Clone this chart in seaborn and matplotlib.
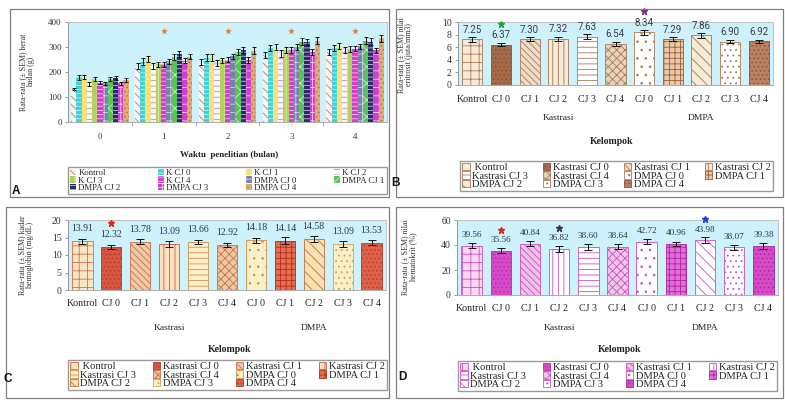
import matplotlib
matplotlib.use('Agg')
import matplotlib.pyplot as plt
import matplotlib.transforms as mtrans
import seaborn as sns
import pandas as pd
from matplotlib.patches import Rectangle

sns.set_style('white')
plt.rcParams['font.family'] = ['Liberation Serif', 'DejaVu Serif']
plt.rcParams['hatch.linewidth'] = 0.6

W, H = 785, 404


def box(x0, y0, x1, y1):
    return [x0 / W, 1 - y1 / H, (x1 - x0) / W, (y1 - y0) / H]


def pt(x, y):
    return x / W, 1 - y / H


# ---------------- Panel A data (berat badan, g) ----------------
months = ['0', '1', '2', '3', '4']
groups_A = ['Kontrol', 'K CJ 0', 'K CJ 1', 'K CJ 2', 'K CJ 3', 'K CJ 4',
            'DMPA CJ 0', 'DMPA CJ 1', 'DMPA CJ 2', 'DMPA CJ 3', 'DMPA CJ 4']
bw_kontrol = [133, 225, 240, 268, 281]
bw_k_cj0 = [180, 241, 258, 296, 298]
bw_k_cj1 = [180, 251, 258, 300, 305]
bw_k_cj2 = [153, 226, 236, 274, 287]
bw_k_cj3 = [172, 231, 247, 287, 294]
bw_k_cj4 = [158, 231, 250, 289, 294]
bw_d_cj0 = [155, 243, 263, 300, 304]
bw_d_cj1 = [172, 261, 280, 322, 325]
bw_d_cj2 = [178, 272, 288, 319, 321]
bw_d_cj3 = [155, 246, 250, 280, 287]
bw_d_cj4 = [168, 262, 286, 326, 335]
se_kontrol = [5, 12, 12, 12, 12]
se_k_cj0 = [10, 14, 14, 12, 12]
se_k_cj1 = [8, 12, 14, 12, 12]
se_k_cj2 = [8, 12, 12, 15, 12]
se_k_cj3 = [7, 10, 10, 12, 12]
se_k_cj4 = [7, 10, 10, 12, 10]
se_d_cj0 = [6, 10, 10, 12, 10]
se_d_cj1 = [9, 12, 12, 14, 14]
se_d_cj2 = [8, 12, 12, 12, 14]
se_d_cj3 = [6, 10, 12, 12, 10]
se_d_cj4 = [7, 10, 14, 15, 15]
star_months_A = [1, 2, 3, 4]
star_value_A = 365

bw_series = [bw_kontrol, bw_k_cj0, bw_k_cj1, bw_k_cj2, bw_k_cj3, bw_k_cj4,
             bw_d_cj0, bw_d_cj1, bw_d_cj2, bw_d_cj3, bw_d_cj4]
se_series = [se_kontrol, se_k_cj0, se_k_cj1, se_k_cj2, se_k_cj3, se_k_cj4,
             se_d_cj0, se_d_cj1, se_d_cj2, se_d_cj3, se_d_cj4]

# ---------------- Panels B, C, D data ----------------
groups_full = ['Kontrol', 'Kastrasi CJ 0', 'Kastrasi CJ 1', 'Kastrasi CJ 2', 'Kastrasi CJ 3',
               'Kastrasi CJ 4', 'DMPA CJ 0', 'DMPA CJ 1', 'DMPA CJ 2', 'DMPA CJ 3', 'DMPA CJ 4']
tick_labels = ['Kontrol', 'CJ 0', 'CJ 1', 'CJ 2', 'CJ 3', 'CJ 4',
               'CJ 0', 'CJ 1', 'CJ 2', 'CJ 3', 'CJ 4']
legend_labels = [' Kontrol'] + groups_full[1:]
group_names = ['Kastrasi', 'DMPA']
group_centers = [3, 8]

eritrosit = [7.25, 6.37, 7.30, 7.32, 7.63, 6.54, 8.34, 7.29, 7.86, 6.90, 6.92]
eritrosit_se = [0.35, 0.25, 0.30, 0.30, 0.40, 0.35, 0.35, 0.25, 0.35, 0.30, 0.25]
hemoglobin = [13.91, 12.32, 13.78, 13.09, 13.66, 12.92, 14.18, 14.14, 14.58, 13.09, 13.53]
hemoglobin_se = [0.8, 0.6, 0.7, 0.8, 0.6, 0.6, 0.7, 0.9, 0.8, 0.8, 0.8]
hematokrit = [39.56, 35.56, 40.84, 36.82, 38.60, 38.64, 42.72, 40.96, 43.98, 38.07, 39.38]
hematokrit_se = [2.0, 1.8, 2.0, 2.2, 2.2, 2.0, 2.0, 1.8, 2.5, 2.0, 2.5]
stars_B = [(1, '#23a33a'), (6, '#7b2c7f')]
stars_C = [(1, '#e0201c')]
stars_D = [(1, '#e0201c'), (3, '#4b2a6e'), (8, '#1f3fd6')]

BG = '#cdf2fb'
legend_order = [0, 4, 8, 1, 5, 9, 2, 6, 10, 3, 7]

styles_A = [
    ('#fdf3f0', '#e0705f', '\\\\\\\\'),
    ('#3fd3d6', '#b5f1f2', '----'),
    ('#f2e070', '#fbf3c0', '....'),
    ('#fbf4fc', '#c58ad6', '---'),
    ('#b2d25c', '#e2efb8', '|||'),
    ('#d63cc9', '#f5c4ef', '----'),
    ('#7e7eae', '#d4d4e8', '++'),
    ('#58c458', '#c8efc8', 'xx'),
    ('#2a2a66', '#c0c0e0', '----'),
    ('#cf3fd0', '#f4c8f4', '++'),
    ('#e0ac74', '#b07840', '....'),
]
styles_B = [
    ('#f7ead6', '#a97a5a', '++'),
    ('#a56a48', '#8a5234', '....'),
    ('#efdcc8', '#a87a58', '\\\\\\\\\\'),
    ('#f7ead6', '#a57555', '|||'),
    ('white', '#a87a58', '---'),
    ('#e7d2bc', '#a87a58', 'xxxx'),
    ('white', '#a87a58', '..'),
    ('#e9c9a6', '#9c5c3a', '+++'),
    ('#f7ead6', '#a57555', '\\\\\\'),
    ('white', '#a87a58', '...'),
    ('#b98262', '#8a5234', '....'),
]
styles_C = [
    ('#fbe6c4', '#d0704e', '++'),
    ('#d8573f', '#b33a2a', '....'),
    ('#f0c9a8', '#c8704e', '\\\\\\\\\\'),
    ('#fbe0bf', '#c66242', '|||'),
    ('#fdf0c8', '#d0904e', '---'),
    ('#f0c8a0', '#c8704e', 'xxxx'),
    ('#fdf0c8', '#d0904e', '..'),
    ('#e86e50', '#b02e1e', '+++'),
    ('#fbe0b0', '#c27040', '\\\\\\'),
    ('#fdf0c8', '#d0a060', '...'),
    ('#e06048', '#b04030', '....'),
]
styles_D = [
    ('#f8d8f1', '#cf4fc0', '++'),
    ('#d94ac9', '#b030a8', '....'),
    ('#f1c2e9', '#cf4fc0', '\\\\\\\\\\'),
    ('white', '#cf4fc0', '|||'),
    ('white', '#cf4fc0', '---'),
    ('#f1c8ea', '#cf4fc0', 'xxxx'),
    ('white', '#cf4fc0', '..'),
    ('#e070d8', '#b020a0', '+++'),
    ('white', '#cf4fc0', '\\\\\\'),
    ('white', '#cf4fc0', '...'),
    ('#d84ac8', '#a82898', '....'),
]

fig = plt.figure(figsize=(7.85, 4.04), dpi=100)

# panel frames
for (x0, y0, x1, y1) in [(10, 9, 389, 197), (396, 9, 783, 197), (6, 207, 389, 398), (396, 207, 783, 398)]:
    fig.add_artist(Rectangle((x0 / W, 1 - y1 / H), (x1 - x0) / W, (y1 - y0) / H,
                             transform=fig.transFigure, fill=False, ec='#808080', lw=0.9))


def style_axes(ax, ylim, yticks, fs):
    ax.set_facecolor(BG)
    ax.set_ylim(*ylim)
    ax.set_yticks(yticks)
    for s in ax.spines.values():
        s.set_color('#bcbcbc')
        s.set_linewidth(0.6)
    ax.spines['left'].set_color('#8c8c8c')
    ax.spines['bottom'].set_color('#a0a0a0')
    ax.tick_params(axis='y', length=2.5, width=0.6, color='#8c8c8c', labelsize=fs,
                   labelcolor='#333333', pad=2, left=True)
    ax.set_xlabel('')
    ax.set_ylabel('')


# ---------------- Panel A ----------------
axA = fig.add_axes(box(68, 22, 387, 122))
rows = []
for g, vals in zip(groups_A, bw_series):
    for m, v in zip(months, vals):
        rows.append({'bulan': m, 'kelompok': g, 'berat': v})
dfA = pd.DataFrame(rows)
sns.barplot(data=dfA, x='bulan', y='berat', hue='kelompok', order=months, hue_order=groups_A,
            palette=['#cccccc'] * len(groups_A), width=0.9, gap=0, errorbar=None,
            legend=False, ax=axA)
handlesA = []
for cont, (fc, ec, ht), se in zip(axA.containers, styles_A, se_series):
    xs, ys = [], []
    for b in cont:
        b.set_facecolor(fc)
        b.set_edgecolor(ec)
        b.set_hatch(ht)
        b.set_linewidth(0)
        xs.append(b.get_x() + b.get_width() / 2)
        ys.append(b.get_height())
    axA.errorbar(xs, ys, yerr=se, fmt='none', ecolor='#111111', elinewidth=0.7,
                 capsize=1.6, capthick=0.7)
    handlesA.append(cont.patches[0])
axA.scatter(star_months_A, [star_value_A] * len(star_months_A), marker='*', s=28,
            color='#e8782a', zorder=5, linewidths=0)
style_axes(axA, (0, 400), [0, 100, 200, 300, 400], 6.5)
axA.set_xlim(-0.5, 4.5)
axA.set_xticks([0.5, 1.5, 2.5, 3.5], minor=True)
axA.tick_params(axis='x', which='major', length=0, labelsize=6.5, labelcolor='#333333', pad=8)
axA.tick_params(axis='x', which='minor', length=3, width=0.6, color='#a0a0a0', bottom=True)
fig.text(*pt(229, 155), 'Waktu  penelitian (bulan)', ha='center', va='center',
         fontsize=6.5, fontweight='bold', color='#222222')
fig.text(*pt(27, 72), 'Rata-rata (± SEM) berat\nbadan (g)', rotation=90, ha='center',
         va='center', fontsize=5.8, color='#333333', linespacing=1.1)
hA = [handlesA[i] for i in legend_order]
lA = [groups_A[i] for i in legend_order]
fig.legend(hA, lA, loc='center', bbox_to_anchor=(68 / W, 1 - 194 / H, 319 / W, 27 / H),
           mode='expand', ncol=4, fontsize=6.3, frameon=True, fancybox=False,
           edgecolor='#9a9a9a', framealpha=1, borderaxespad=0, borderpad=0.25,
           labelspacing=-0.05, handlelength=0.7, handleheight=0.7, handletextpad=0.25,
           columnspacing=1.0)
fig.text(*pt(16, 191), 'A', ha='center', va='center', fontsize=8.5, fontweight='bold',
         family='Liberation Sans', color='#111111')


# ---------------- Panels B/C/D ----------------
def panel(rect, values, errs, styles, ylim, yticks, ylabel, ylabel_xy, letter, letter_xy,
          legend_rect, xlabel_xy, tick_pad, group_off, label_off, star_off, stars,
          val_font, val_fs, val_color):
    ax = fig.add_axes(box(*rect))
    df = pd.DataFrame({'kelompok': groups_full, 'nilai': values})
    sns.barplot(data=df, x='kelompok', y='nilai', order=groups_full, color='white',
                width=0.7, errorbar=None, ax=ax)
    bars = list(ax.containers[0])
    xs, ys = [], []
    for b, (fc, ec, ht) in zip(bars, styles):
        b.set_facecolor(fc)
        b.set_edgecolor(ec)
        b.set_hatch(ht)
        b.set_linewidth(0.6)
        xs.append(b.get_x() + b.get_width() / 2)
        ys.append(b.get_height())
    ax.errorbar(xs, ys, yerr=errs, fmt='none', ecolor='#111111', elinewidth=0.7,
                capsize=2.6, capthick=0.7)
    for x, y, v in zip(xs, ys, values):
        ax.annotate(f'{v:.2f}', (x, y), xytext=(0, label_off * 0.72), textcoords='offset points',
                    ha='center', va='center', fontsize=val_fs, family=val_font,
                    color=val_color, annotation_clip=False)
    for idx, col in stars:
        ax.plot([xs[idx]], [ys[idx]], marker='*', ms=4.6, color=col, mec=col, ls='none',
                transform=ax.transData + mtrans.ScaledTranslation(
                    0, star_off / 100, fig.dpi_scale_trans), clip_on=False, zorder=6)
    style_axes(ax, ylim, yticks, 7)
    ax.set_xlim(-0.5, 10.5)
    ax.set_xticks(range(len(tick_labels)))
    ax.set_xticklabels(tick_labels)
    ax.tick_params(axis='x', length=0, labelsize=7.2, labelcolor='#222222', pad=tick_pad)
    for name, c in zip(group_names, group_centers):
        ax.annotate(name, (c, 0), xycoords=('data', 'axes fraction'),
                    xytext=(0, -group_off * 0.72), textcoords='offset points',
                    ha='center', va='center', fontsize=6.8, color='#222222')
    fig.text(*pt(*xlabel_xy), 'Kelompok', ha='center', va='center', fontsize=7,
             fontweight='bold', color='#222222')
    fig.text(*pt(*ylabel_xy), ylabel, rotation=90, ha='center', va='center',
             fontsize=5.8, color='#333333', linespacing=1.1)
    x0, y0, x1, y1 = legend_rect
    fig.legend([bars[i] for i in legend_order], [legend_labels[i] for i in legend_order],
               loc='center', bbox_to_anchor=(x0 / W, 1 - y1 / H, (x1 - x0) / W, (y1 - y0) / H),
               mode='expand', ncol=4, fontsize=7.6, frameon=True, fancybox=False,
               edgecolor='#9a9a9a', framealpha=1, borderaxespad=0, borderpad=0.2,
               labelspacing=-0.1, handlelength=0.7, handleheight=0.7, handletextpad=0.25,
               columnspacing=1.0)
    fig.text(*pt(*letter_xy), letter, ha='center', va='center', fontsize=8.5,
             fontweight='bold', family='Liberation Sans', color='#111111')
    return ax


panel((458, 22, 773, 85), eritrosit, eritrosit_se, styles_B, (0, 10), [0, 2, 4, 6, 8, 10],
      'Rata-rata (± SEM) nilai\neritrosit (juta/mm3)', (405, 55), 'B', (396, 183),
      (460, 160, 773, 192), (612, 142), 7.5, 33, 9.5, 21, stars_B, 'Roboto', 7, '#3a3a4a')
panel((68, 220, 386, 290), hemoglobin, hemoglobin_se, styles_C, (0, 20), [0, 5, 10, 15, 20],
      'Rata-rata (± SEM) kadar\nhemoglobin (mg/dL)', (26, 255), 'C', (8, 379),
      (68, 357, 387, 393), (230, 349), 6.5, 38, 12.5, 24, stars_C, 'Liberation Serif', 7,
      '#2a3550')
panel((457, 220, 778, 295), hematokrit, hematokrit_se, styles_D, (0, 60), [0, 20, 40, 60],
      'Rata-rata (± SEM) nilai\nhematokrit (%)', (409, 257), 'D', (402, 377),
      (458, 357, 777, 395), (620, 350), 6.5, 33, 10.5, 21, stars_D, 'Liberation Serif', 6.6,
      '#2a3550')

fig.savefig('out.png', dpi=100)
